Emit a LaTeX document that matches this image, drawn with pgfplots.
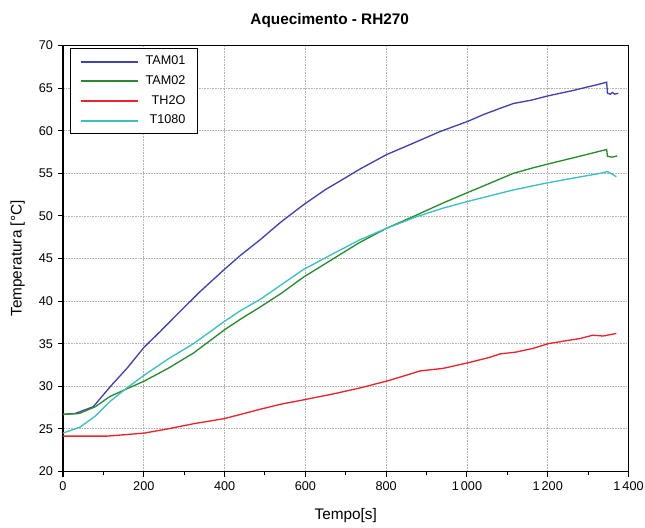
\documentclass[border=0pt]{standalone}
\usepackage{pgfplots}
\pgfplotsset{compat=1.18}
\usepackage{fontspec}
\setmainfont{Liberation Sans}
\definecolor{cblue}{RGB}{65,65,180}
\definecolor{cgreen}{RGB}{40,140,45}
\definecolor{cred}{RGB}{235,35,45}
\definecolor{ccyan}{RGB}{60,190,195}
\begin{document}
\begin{tikzpicture}
\begin{axis}[
  scale only axis,
  width=424pt, height=319.3pt,
  xmin=0, xmax=1400, ymin=20, ymax=70,
  xtick={0,200,...,1400}, ytick={20,25,...,70},
  minor x tick num=1,
  tick align=outside,
  xtick pos=bottom, ytick pos=left,
  major tick length=4pt, minor tick length=3pt,
  tick style={black, line width=0.8pt},
  grid=major,
  grid style={color=black!30, line width=0.6pt, dash pattern=on 1.2pt off 0.8pt},
  axis line style={line width=1pt},
  /pgf/number format/assume math mode=true,
  /pgf/number format/1000 sep={\,},
  ticklabel style={font=\fontsize{9.5}{11}\selectfont},
  xlabel={Tempo[s]}, ylabel={Temperatura [\textdegree C]},
  every axis x label/.style={at={(axis description cs:0.5,0)}, yshift=-33pt, anchor=center, font=\fontsize{11.5}{13}\selectfont},
  every axis y label/.style={at={(axis description cs:0,0.5)}, xshift=-34pt, rotate=90, anchor=center, font=\fontsize{11.5}{13}\selectfont},
  title={\textbf{Aquecimento - RH270}},
  every axis title/.style={at={(axis description cs:0.5,1)}, yshift=19pt, xshift=-12pt, anchor=center, font=\fontsize{11.5}{13}\selectfont},
  legend style={font=\fontsize{9.5}{11}\selectfont, draw=black, line width=0.8pt, at={(axis description cs:0,1)}, xshift=5pt, yshift=-2pt, anchor=north west, row sep=2.6pt, inner xsep=7pt, inner ysep=3.5pt, /tikz/every odd column/.append style={column sep=3pt}},
  legend cell align=right,
  legend image code/.code={\draw[#1, line width=1.5pt] (0pt,0pt) -- (43pt,0pt);},
]
\coordinate (bl) at (rel axis cs:0,0);
\coordinate (tr) at (rel axis cs:1,1);
\addplot[cblue, line width=1pt] coordinates {
(0,26.7) (30,26.8) (75,27.6) (116,29.9) (160,32.2) (201,34.6) (240,36.4) (290,38.8) (339,41.1) (399,43.7) (440,45.4) (488,47.2) (540,49.3) (595,51.3) (650,53.1) (700,54.5) (735,55.5) (801,57.2) (870,58.6) (933,59.9) (1002,61.1) (1041,61.9) (1080,62.6) (1115,63.2) (1160,63.6) (1201,64.1) (1260,64.7) (1330,65.5) (1346,65.7) (1348,64.4) (1355,64.3) (1360,64.5) (1366,64.3) (1375,64.4)
};
\addlegendentry{TAM01}
\addplot[cgreen, line width=1pt] coordinates {
(0,26.7) (40,26.8) (80,27.6) (116,28.8) (158,29.7) (201,30.6) (260,32.1) (323,33.9) (399,36.6) (440,37.9) (488,39.3) (540,40.9) (595,42.8) (670,45.0) (735,46.9) (801,48.55) (875,50.1) (940,51.5) (1002,52.75) (1060,53.9) (1115,55.0) (1160,55.6) (1201,56.1) (1270,56.9) (1346,57.8) (1348,57.0) (1360,56.9) (1372,57.05)
};
\addlegendentry{TAM02}
\addplot[cred, line width=1pt] coordinates {
(0,24.15) (110,24.15) (150,24.3) (201,24.5) (260,25.0) (323,25.6) (399,26.2) (440,26.7) (488,27.3) (540,27.9) (595,28.4) (669,29.1) (735,29.8) (801,30.6) (850,31.3) (884,31.8) (941,32.1) (1002,32.75) (1057,33.4) (1082,33.8) (1120,34.0) (1164,34.45) (1201,35.0) (1246,35.35) (1280,35.6) (1312,36.0) (1337,35.9) (1370,36.2)
};
\addlegendentry{TH2O}
\addplot[ccyan, line width=1pt] coordinates {
(0,24.5) (42,25.2) (80,26.5) (116,28.2) (158,29.8) (201,31.3) (260,33.2) (323,35.0) (399,37.6) (440,38.9) (488,40.2) (540,41.9) (595,43.7) (670,45.6) (735,47.2) (801,48.55) (875,49.9) (940,50.9) (1002,51.7) (1060,52.4) (1115,53.05) (1160,53.5) (1201,53.9) (1270,54.5) (1330,55.0) (1348,55.2) (1360,54.9) (1370,54.6)
};
\addlegendentry{T1080}
\end{axis}
\pgfresetboundingbox
\path ([shift={(-47.25pt,-41.8pt)}]bl) rectangle ([shift={(12.4pt,34.2pt)}]tr);
\end{tikzpicture}
\end{document}
